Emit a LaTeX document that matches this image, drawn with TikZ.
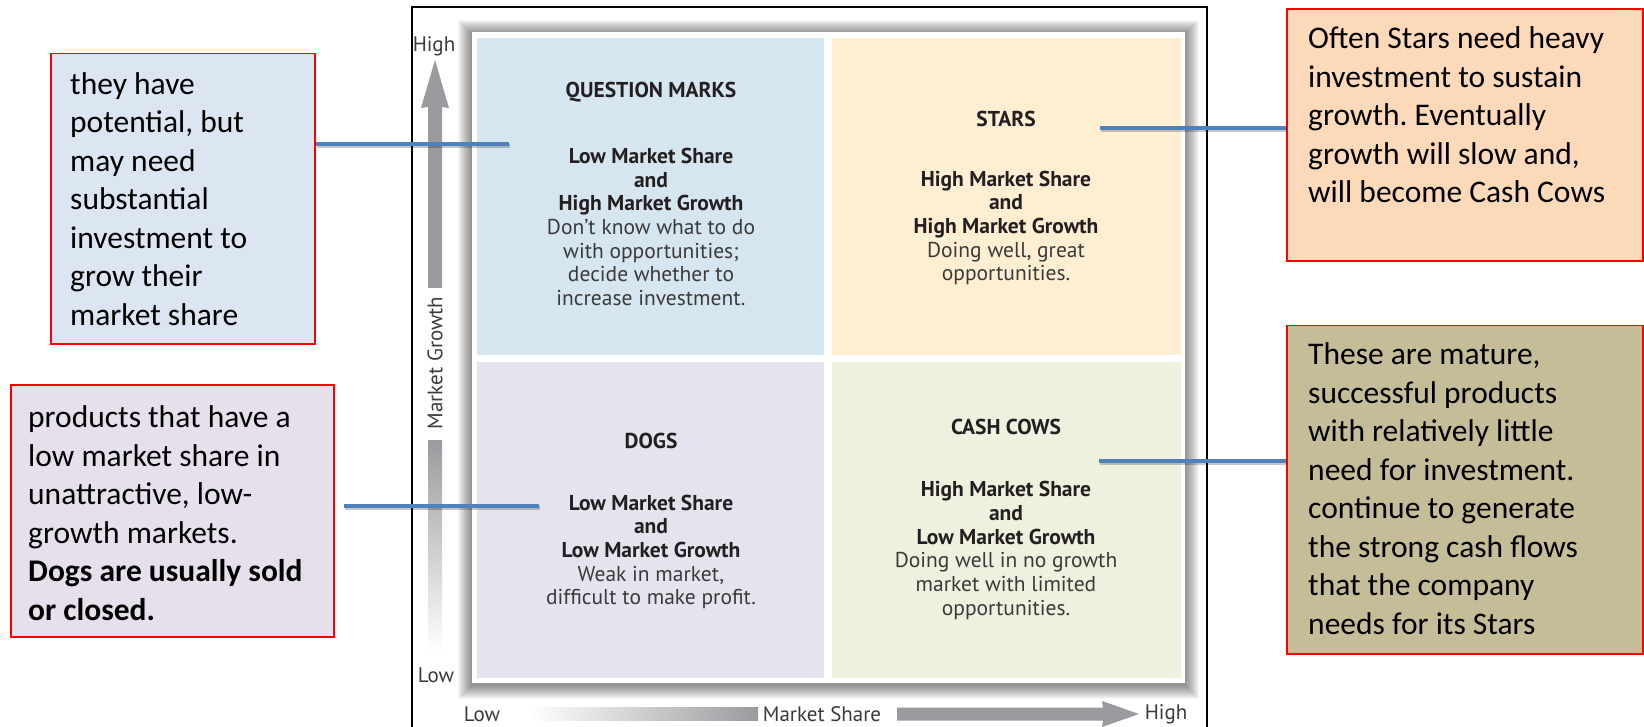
\documentclass[tikz,border=0pt]{standalone}
\usepackage{fontspec}
\setmainfont{Carlito}
\newfontfamily\myriad{PT Sans}
\usetikzlibrary{calc}
\frenchspacing
\definecolor{qmcol}{HTML}{D5E6F0}
\definecolor{starcol}{HTML}{FEEFD3}
\definecolor{dogcol}{HTML}{E4E4EE}
\definecolor{cowcol}{HTML}{EEF1DD}
\definecolor{arrowgray}{HTML}{9B9B9F}
\definecolor{linkblue}{HTML}{4F81BD}
\definecolor{notea}{HTML}{DCE6F2}
\definecolor{noteb}{HTML}{E5E0EC}
\definecolor{notec}{HTML}{FCD9B9}
\definecolor{noted}{HTML}{C4BD97}
\definecolor{bodytext}{HTML}{231F20}
\definecolor{softtext}{HTML}{3A3A3A}
\tikzset{
  quad/.style={draw=none, inner sep=0pt, anchor=north west},
  qtitle/.style={font=\myriad\bfseries\fontsize{21.5}{23.7}\selectfont, text=bodytext, inner sep=0pt},
  qbody/.style={font=\myriad\fontsize{21.5}{23.7}\selectfont, text=softtext, align=center, inner sep=0pt},
  axislabel/.style={font=\myriad\fontsize{21}{24}\selectfont, text=softtext, inner sep=0pt},
  notebox/.style={draw=red, line width=1.5pt, inner sep=0pt, anchor=north west},
  notetext/.style={font=\fontsize{31.5}{38.5}\selectfont\frenchspacing, align=left, anchor=west, inner sep=0pt, text=black},
  link/.style={draw=linkblue, line width=3.8pt,
    preaction={draw=black, opacity=0.22, line width=3.8pt, transform canvas={shift={(1pt,-2pt)}}}},
}
\begin{document}
\begin{tikzpicture}[x=1pt,y=-1pt]
\useasboundingbox[fill=white] (0,0) rectangle (1644,727);

% frame of the matrix picture
\draw[line width=1.2pt] (412,727) -- (412,7) -- (1207,7) -- (1207,727);
\draw[line width=2.4pt] (412,727) -- (412,7);

% panel shadow and panel
\foreach \k in {1,...,14}
  \fill[black, opacity=0.035] (472-\k,32-\k+2) rectangle (1185+\k,683+\k+2);
\fill[white] (472,32) rectangle (1185,683);

% quadrants
\node[quad, fill=qmcol,   minimum width=347pt, minimum height=317pt] (qm)    at (477,38)  {};
\node[quad, fill=starcol, minimum width=349pt, minimum height=317pt] (stars) at (832,38)  {};
\node[quad, fill=dogcol,  minimum width=347pt, minimum height=316pt] (dogs)  at (477,362) {};
\node[quad, fill=cowcol,  minimum width=349pt, minimum height=316pt] (cows)  at (832,362) {};

% quadrant texts
\node[qtitle] (qmtitle) at (651,92) {QUESTION MARKS};
\node[qbody] (qmbody) at (651,227) {\textcolor{bodytext}{\bfseries Low Market Share}\\\textcolor{bodytext}{\bfseries and}\\\textcolor{bodytext}{\bfseries High Market Growth}\\Don’t know what to do\\with opportunities;\\decide whether to\\increase investment.};

\node[qtitle] (startitle) at (1006,119) {STARS};
\node[qbody] (starbody) at (1006,228) {\textcolor{bodytext}{\bfseries High Market Share}\\\textcolor{bodytext}{\bfseries and}\\\textcolor{bodytext}{\bfseries High Market Growth}\\Doing well, great\\opportunities.};

\node[qtitle] (dogtitle) at (651,441) {DOGS};
\node[qbody] (dogbody) at (651,552) {\textcolor{bodytext}{\bfseries Low Market Share}\\\textcolor{bodytext}{\bfseries and}\\\textcolor{bodytext}{\bfseries Low Market Growth}\\Weak in market,\\difficult to make profit.};

\node[qtitle] (cowtitle) at (1006,427) {CASH COWS};
\node[qbody] (cowbody) at (1006,550.5) {\textcolor{bodytext}{\bfseries High Market Share}\\\textcolor{bodytext}{\bfseries and}\\\textcolor{bodytext}{\bfseries Low Market Growth}\\Doing well in no growth\\market with limited\\opportunities.};

% vertical axis (market growth)
\fill[arrowgray] (428,288) -- (428,107) -- (421,108) -- (435,60) -- (449,108) -- (442,107) -- (442,288) -- cycle;
\shade[top color=arrowgray, bottom color=white] (428,440) rectangle (442,653);
\node[axislabel] (ghigh) at (434,46) {High};
\node[axislabel] (glow) at (436,675) {Low};
\node[axislabel, rotate=90] (gname) at (435,363) {Market Growth};

% horizontal axis (market share)
\shade[left color=white, right color=arrowgray] (530,707.5) rectangle (758,720.5);
\fill[arrowgray] (897,707.5) -- (1103,707.5) -- (1102,701) -- (1139,714) -- (1102,727) -- (1103,720.5) -- (897,720.5) -- cycle;
\node[axislabel] (slow) at (482,714) {Low};
\node[axislabel] (sname) at (822,714) {Market Share};
\node[axislabel] (shigh) at (1166,714) {High};

% callout boxes
\node[notebox, fill=notea, minimum width=264pt, minimum height=290pt] (qmnote) at (50,53) {};
\node[notetext] (qmnotetext) at ($(qmnote.west)+(20,0)$) {they have\\potential, but\\may need\\substantial\\investment to\\grow their\\market share};

\node[notebox, fill=noteb, minimum width=323pt, minimum height=252pt] (dognote) at (10,384) {};
\node[notetext] (dognotetext) at ($(dognote.west)+(18,2.5)$) {products that have a\\low market share in\\unattractive, low-\\growth markets.\\\textbf{Dogs are usually sold}\\\textbf{or closed.}};

\node[notebox, fill=notec, minimum width=356pt, minimum height=252pt] (starnote) at (1286,8.5) {};
\node[notetext] (starnotetext) at ($(starnote.north west)+(22,106.5)$) {Often Stars need heavy\\investment to sustain\\growth. Eventually\\growth will slow and,\\will become Cash Cows};

\node[notebox, fill=noted, minimum width=356pt, minimum height=328pt] (cownote) at (1286,325) {};
\node[notetext] (cownotetext) at ($(cownote.west)+(22,-1)$) {These are mature,\\successful products\\with relatively little\\need for investment.\\continue to generate\\the strong cash flows\\that the company\\needs for its Stars};

% connectors
\coordinate (qmend) at (509,144);
\coordinate (dogstart) at (344,506);
\coordinate (dogend) at (539,506);
\coordinate (starend) at (1100,128);
\coordinate (cowend) at (1099,461);
\draw[link] (qmnote.east |- qmend) -- (qmend);
\draw[link] (dogstart) -- (dogend);
\draw[link] (starnote.west |- starend) -- (starend);
\draw[link] (cownote.west |- cowend) -- (cowend);
\end{tikzpicture}
\end{document}
